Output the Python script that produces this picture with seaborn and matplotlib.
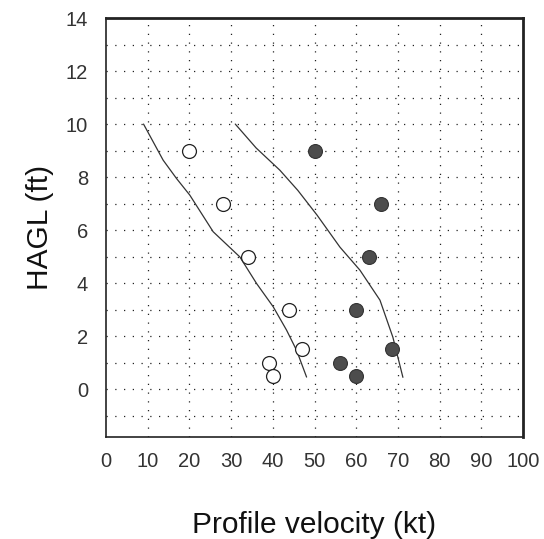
import matplotlib
matplotlib.use("Agg")
import matplotlib.pyplot as plt
import seaborn as sns
import pandas as pd

# data
open_x = [20, 28, 34, 44, 47, 39, 40]
open_y = [9, 7, 5, 3, 1.5, 1, 0.5]
filled_x = [50, 66, 63, 60, 68.5, 56, 60]
filled_y = [9, 7, 5, 3, 1.5, 1, 0.5]
left_curve_x = [9, 13.7, 16.9, 20.1, 25.7, 32.1, 36.1, 40.1, 43.3, 45.7, 48.1]
left_curve_y = [10, 8.64, 7.95, 7.32, 5.94, 4.99, 3.99, 3.11, 2.23, 1.47, 0.46]
right_curve_x = [31, 36, 41.7, 46, 50.6, 56.1, 60.9, 65.7, 68.8, 71.2]
right_curve_y = [10, 9.1, 8.26, 7.5, 6.57, 5.36, 4.49, 3.36, 1.96, 0.45]
xticks = list(range(0, 101, 10))
yticks = list(range(0, 15, 2))

sns.set_style("white")
plt.rcParams['font.family'] = ['Liberation Sans', 'DejaVu Sans']

fig = plt.figure(figsize=(5.44, 5.39), dpi=100)
ax = fig.add_axes([106/544, 1-437/539, (523-106)/544, (437-18)/539])

ax.set_xlim(0, 100)
ax.set_ylim(-1.8, 14)

# grid
for gx in range(10, 100, 10):
    ax.axvline(gx, color='#222222', lw=0.9, ls=(0, (1, 6)), zorder=0)
for gy in range(-1, 14):
    ax.axhline(gy, color='#222222', lw=0.9, ls=(0, (1, 6)), zorder=0)

lc = pd.DataFrame({'x': left_curve_x, 'y': left_curve_y})
rc = pd.DataFrame({'x': right_curve_x, 'y': right_curve_y})
sns.lineplot(data=lc, x='x', y='y', sort=False, color='#333333', lw=0.9, ax=ax, zorder=2)
sns.lineplot(data=rc, x='x', y='y', sort=False, color='#333333', lw=0.9, ax=ax, zorder=2)

op = pd.DataFrame({'x': open_x, 'y': open_y})
fp = pd.DataFrame({'x': filled_x, 'y': filled_y})
sns.scatterplot(data=op, x='x', y='y', s=100, facecolor='white', edgecolor='#222222', linewidth=0.9, ax=ax, zorder=3)
sns.scatterplot(data=fp, x='x', y='y', s=100, facecolor='#4d4d4d', edgecolor='#333333', linewidth=0.8, ax=ax, zorder=3)

ax.set_xticks(xticks)
ax.set_xticklabels([str(t) for t in xticks], fontsize=14.5, color='#333333')
ax.set_yticks(yticks)
ax.set_yticklabels([str(t) for t in yticks], fontsize=14.5, color='#333333')
ax.set_yticks(list(range(-1, 14)), minor=True)
ax.tick_params(axis='both', which='both', direction='in', length=8, width=1, color='#222222')
ax.tick_params(axis='x', which='minor', length=0)
ax.tick_params(axis='x', pad=11)
ax.tick_params(axis='y', pad=13)

for s in ax.spines.values():
    s.set_visible(True)
    s.set_color('#222222')
    s.set_linewidth(1.2)
ax.spines['top'].set_linewidth(2)
ax.spines['right'].set_linewidth(2)

ax.set_xlabel('Profile velocity (kt)', fontsize=21.5, color='#111111')
ax.set_ylabel('HAGL (ft)', fontsize=21.5, color='#111111')
ax.xaxis.set_label_coords(0.5, (437 - 533) / 419)
ax.xaxis.label.set_va('baseline')
ax.yaxis.set_label_coords((40 - 106) / 417, 0.5)
ax.yaxis.label.set_va('center')

fig.savefig('out.png', dpi=100)
